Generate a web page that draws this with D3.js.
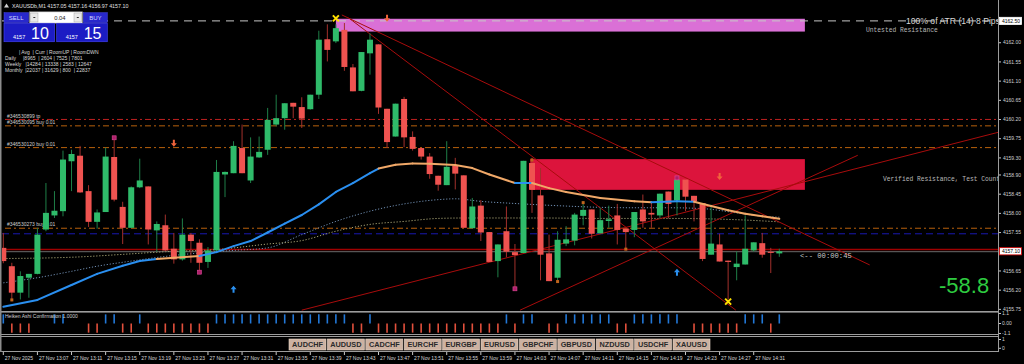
<!DOCTYPE html>
<html>
<head>
<meta charset="utf-8">
<script src="https://cdn.jsdelivr.net/npm/d3@7"></script>
<style>
    body { margin: 0; background: #000; overflow: hidden; }
    svg { display: block; }
    text { font-family: "Liberation Sans", Arial, sans-serif; }
    .mono { font-family: "Liberation Mono", "DejaVu Sans Mono", monospace; }
</style>
</head>
<body>
<div id="chart"></div>
<script>
// XAUUSDb M1 candles, 27 Nov 2025 13:03 .. 14:34 (one per minute)
let opens = [4157.18, 4156.75, 4156.13, 4156.48, 4156.57, 4157.61, 4157.94, 4158.04, 4159.21, 4159.34,
    4158.51, 4157.79, 4158.02, 4159.31, 4158.14, 4157.65, 4158.60, 4158.62, 4157.59, 4157.71,
    4157.16, 4156.91, 4157.49, 4157.30, 4156.85, 4157.12, 4158.90, 4158.93, 4159.52, 4158.76,
    4159.30, 4159.48, 4160.07, 4160.22, 4160.58, 4160.48, 4160.43, 4160.77, 4162.07, 4162.02,
    4162.29, 4161.41, 4160.86, 4161.74, 4161.95, 4160.44, 4159.79, 4160.67, 4159.78, 4159.52,
    4159.32, 4158.87, 4158.65, 4159.11, 4158.88, 4157.64, 4158.17, 4157.55, 4156.87, 4157.57,
    4157.08, 4157.06, 4159.17, 4158.41, 4157.05, 4156.48, 4157.28, 4157.35, 4157.93, 4158.08,
    4157.52, 4157.81, 4157.94, 4157.63, 4157.60, 4158.08, 4158.00, 4157.94, 4158.50, 4158.29,
    4158.78, 4158.40, 4158.23, 4157.02, 4157.26, 4156.88, 4156.73, 4156.79, 4157.12, 4157.29,
    4157.09, 4157.05];
let highs = [4157.53, 4156.83, 4156.63, 4156.57, 4157.65, 4158.70, 4158.51, 4159.46, 4159.48, 4159.57,
    4158.65, 4158.08, 4159.53, 4159.71, 4158.26, 4158.62, 4159.27, 4158.62, 4157.80, 4157.96,
    4157.53, 4157.87, 4157.53, 4157.38, 4157.20, 4159.24, 4158.97, 4159.68, 4160.07, 4159.77,
    4159.79, 4160.46, 4160.77, 4160.57, 4160.58, 4160.71, 4160.77, 4162.27, 4162.42, 4162.42,
    4162.45, 4161.49, 4161.77, 4162.21, 4161.95, 4160.44, 4160.56, 4160.72, 4159.91, 4159.52,
    4159.40, 4158.87, 4159.68, 4159.29, 4158.88, 4158.35, 4158.30, 4157.55, 4157.26, 4158.15,
    4157.27, 4159.22, 4159.29, 4159.05, 4157.49, 4157.57, 4157.69, 4158.00, 4158.27, 4158.08,
    4158.12, 4158.17, 4158.21, 4157.63, 4158.02, 4158.43, 4158.27, 4158.45, 4158.50, 4158.83,
    4158.78, 4158.40, 4158.23, 4158.19, 4157.51, 4156.88, 4157.10, 4157.94, 4157.31, 4157.53,
    4157.18, 4157.16];
let lows = [4156.82, 4155.93, 4155.97, 4156.01, 4156.56, 4157.57, 4157.88, 4157.92, 4158.51, 4158.47,
    4157.67, 4157.63, 4158.02, 4158.27, 4157.27, 4157.65, 4158.58, 4157.26, 4157.09, 4157.10,
    4156.81, 4156.88, 4156.83, 4156.63, 4156.71, 4157.10, 4158.37, 4158.93, 4158.93, 4158.70,
    4159.29, 4159.36, 4160.03, 4159.95, 4160.22, 4159.99, 4160.42, 4160.67, 4161.55, 4161.98,
    4161.33, 4160.85, 4160.85, 4161.24, 4160.32, 4159.52, 4159.79, 4159.54, 4159.46, 4159.25,
    4158.80, 4158.52, 4158.65, 4158.55, 4157.65, 4157.64, 4157.34, 4156.85, 4156.49, 4156.96,
    4156.18, 4157.06, 4158.00, 4156.42, 4156.40, 4156.40, 4157.22, 4157.24, 4157.71, 4157.40,
    4157.52, 4157.65, 4157.26, 4157.14, 4157.43, 4157.65, 4157.65, 4157.87, 4157.87, 4157.94,
    4158.04, 4157.80, 4156.87, 4157.02, 4156.86, 4155.97, 4156.42, 4156.79, 4157.09, 4156.95,
    4156.59, 4156.97];
let closes = [4156.87, 4156.13, 4156.52, 4156.57, 4157.49, 4158.00, 4158.05, 4159.25, 4159.38, 4158.48,
    4157.79, 4158.01, 4159.32, 4158.31, 4157.65, 4158.60, 4158.76, 4157.61, 4157.74, 4157.12,
    4156.91, 4157.49, 4157.34, 4156.83, 4157.12, 4158.96, 4158.96, 4159.57, 4158.93, 4159.32,
    4159.43, 4160.18, 4160.22, 4160.57, 4160.49, 4160.21, 4160.77, 4162.06, 4161.82, 4162.33,
    4161.42, 4160.85, 4161.77, 4162.06, 4160.47, 4159.66, 4160.56, 4159.77, 4159.50, 4159.32,
    4158.91, 4158.66, 4159.08, 4158.92, 4157.65, 4158.15, 4157.54, 4156.85, 4157.26, 4157.09,
    4157.01, 4159.22, 4158.54, 4157.02, 4156.40, 4157.37, 4157.38, 4157.96, 4158.07, 4157.51,
    4157.83, 4157.85, 4157.60, 4157.55, 4158.02, 4157.80, 4157.96, 4158.45, 4158.21, 4158.78,
    4158.38, 4158.27, 4156.92, 4157.28, 4156.86, 4156.85, 4156.81, 4157.16, 4157.31, 4157.02,
    4157.07, 4157.10];

// Heiken Ashi Confirmation: 1 = up bar, -1 = down bar, 0 = nothing
let haSignal = [1, -1, -1, -1, 0, 0, 1, 1, 0, 0,
    -1, -1, 1, 1, -1, -1, 1, -1, -1, -1,
    -1, -1, -1, -1, -1, 1, 1, 1, 1, 1,
    1, 1, 1, 1, 1, 1, 1, 1, 1, 1,
    1, -1, -1, 1, -1, -1, -1, -1, -1, -1,
    -1, -1, -1, -1, -1, -1, -1, -1, -1, 1,
    -1, 1, 1, 0, -1, -1, 1, 1, 1, 1,
    1, 1, -1, -1, 1, 1, 1, 1, 1, 1,
    0, -1, -1, -1, -1, -1, -1, 1, 1, 1,
    -1, 1];

// axis labels (one every 4 candles)
let timeLabels = ["27 Nov 2025", "27 Nov 13:07", "27 Nov 13:11", "27 Nov 13:15", "27 Nov 13:19",
    "27 Nov 13:23", "27 Nov 13:27", "27 Nov 13:31", "27 Nov 13:35", "27 Nov 13:39", "27 Nov 13:43",
    "27 Nov 13:47", "27 Nov 13:51", "27 Nov 13:55", "27 Nov 13:59", "27 Nov 14:03", "27 Nov 14:07",
    "27 Nov 14:11", "27 Nov 14:15", "27 Nov 14:19", "27 Nov 14:23", "27 Nov 14:27", "27 Nov 14:31"];
let priceTicks = [4162.00, 4161.55, 4161.10, 4160.65, 4160.20, 4159.75, 4159.30, 4158.90,
    4158.45, 4158.00, 4157.55, 4156.65, 4156.20, 4155.75];
let priceMarks = [4162.50, 4157.10];

// moving averages (candle index, price)
let maFastIdx = [0, 4, 8, 11, 14, 16, 18, 20, 23, 25, 27, 29, 31, 33, 35, 37, 39, 41, 43, 44,
    46, 48, 50, 53, 55, 57, 60, 62, 64, 66, 70, 74, 76, 79, 81, 83, 85, 87, 89, 91];
let maFastVal = [4155.80, 4155.96, 4156.31, 4156.57, 4156.76, 4156.87, 4156.92, 4156.95, 4156.99, 4157.08,
    4157.22, 4157.34, 4157.54, 4157.75, 4157.95, 4158.20, 4158.49, 4158.70, 4158.93, 4159.04,
    4159.13, 4159.16, 4159.15, 4159.12, 4159.05, 4158.90, 4158.70, 4158.70, 4158.58, 4158.49,
    4158.35, 4158.27, 4158.25, 4158.27, 4158.26, 4158.16, 4158.06, 4157.98, 4157.92, 4157.86];
// 1 = segment drawn as rising (blue), 0 = falling (orange)
let maFastUp = [1, 1, 1, 1, 1, 1, 0, 0, 1, 1, 1, 1, 1, 1, 1, 1, 1, 1, 1, 0,
    0, 0, 0, 0, 0, 0, 1, 0, 0, 0, 0, 0, 1, 1, 0, 0, 0, 0, 0, 0];

let maMidIdx = [0, 4, 8, 11, 15, 19, 23, 27, 31, 35, 39, 43, 47, 51, 53, 56, 60, 66, 70, 74, 78, 82, 86, 89, 91];
let maMidVal = [4156.36, 4156.48, 4156.63, 4156.75, 4156.87, 4156.98, 4157.06, 4157.12, 4157.18, 4157.49,
    4157.80, 4158.04, 4158.21, 4158.31, 4158.33, 4158.27, 4158.22, 4158.16, 4158.13, 4158.12,
    4158.12, 4158.10, 4158.00, 4157.92, 4157.90];

let maSlowIdx = [0, 8, 15, 19, 25, 31, 35, 39, 43, 47, 51, 54, 63, 70, 78, 86, 91];
let maSlowVal = [4156.93, 4156.96, 4157.04, 4157.09, 4157.14, 4157.27, 4157.35, 4157.57, 4157.73,
    4157.80, 4157.87, 4157.88, 4157.88, 4157.87, 4157.87, 4157.84, 4157.79];

// open orders
let orderLevels = [4160.19, 4160.04, 4159.53, 4157.64];
let orderLabels = ["#346530899 tp", "#346530095 buy 0.01", "#346530120 buy 0.01", "#346530273 buy 0.01"];

// supply zones
let zoneNames = ["Untested Resistance", "Verified Resistance, Test Count"];
let zoneTop = [4162.55, 4159.26];
let zoneBottom = [4162.25, 4158.54];
let zoneStart = [39, 61.8];
let zoneEnd = [94, 94];

// trend lines: [candle index, price] -> [candle index, price]
let trendFrom = [[39.7, 4162.64], [40.5, 4162.57], [35.0, 4155.72], [60.6, 4155.72]];
let trendTo = [[101.6, 4156.78], [85.9, 4155.72], [116.7, 4159.89], [100.2, 4159.35]];

// signal markers
let upArrowIdx = [27, 79];
let upArrowPrice = [4156.21, 4156.61];
let downArrowIdx = [20, 45, 84];
let downArrowPrice = [4159.63, 4162.56, 4158.85];
let crossIdx = [39, 85];
let crossPrice = [4162.56, 4155.92];
let pinkIdx = [13, 23, 60, 79];
let pinkPrice = [4159.76, 4156.61, 4156.22, 4158.82];
let dotIdx = [1, 62, 65, 68, 73];
let dotPrice = [4155.96, 4159.24, 4156.39, 4158.24, 4157.15];

let symbols = ["AUDCHF", "AUDUSD", "CADCHF", "EURCHF", "EURGBP", "EURUSD", "GBPCHF", "GBPUSD", "NZDUSD", "USDCHF", "XAUUSD"];
let infoRows = ["          | Avg  | Curr | RoomUP | RoomDWN",
    "Daily     |8965  | 2604 | 7525 | 7801",
    "Weekly   |14284 | 13338 | 2583 | 12647",
    "Monthly  |22037 | 31629 | 800  | 22837"];

// ==============================
let W = 1024, H = 364;
let plotR = 998;

let svg = d3.select("#chart").append("svg").attr("width", W).attr("height", H);
svg.append("rect").attr("width", W).attr("height", H).attr("fill", "#000");

let x = d3.scaleLinear().domain([0, 91]).range([3.3, 779.3]);
let y = d3.scaleLinear().domain([4155.70, 4162.99]).range([311, 0]);
let yHA = d3.scaleLinear().domain([-1.15, 1.15]).range([334, 313]);

svg.append("defs").append("clipPath").attr("id", "mainClip")
    .append("rect").attr("x", 2).attr("y", 0).attr("width", plotR - 2).attr("height", 311);

let main = svg.append("g").attr("clip-path", "url(#mainClip)");

// zones
zoneNames.forEach(function (n, i) {
    main.append("rect")
        .attr("x", x(zoneStart[i])).attr("y", y(zoneTop[i]))
        .attr("width", x(zoneEnd[i]) - x(zoneStart[i]))
        .attr("height", y(zoneBottom[i]) - y(zoneTop[i]))
        .attr("fill", i === 0 ? "#da70d6" : "#dc143c");
});

// order lines
orderLevels.forEach(function (p, i) {
    main.append("line")
        .attr("x1", 5).attr("x2", plotR).attr("y1", y(p)).attr("y2", y(p))
        .attr("stroke", i === 0 ? "#c02020" : "#b8600c")
        .attr("stroke-width", 1)
        .attr("stroke-dasharray", "6,3,2,3");
    main.append("text")
        .attr("x", 7).attr("y", y(p) - 1.8)
        .attr("font-size", 5).attr("fill", "#d0d0d0")
        .text(orderLabels[i]);
});

// ATR line
main.append("line")
    .attr("x1", 2).attr("x2", plotR).attr("y1", y(4162.50)).attr("y2", y(4162.50))
    .attr("stroke", "#c8c8c8").attr("stroke-width", 1).attr("stroke-dasharray", "8,6");

// blue dashed level, ask/bid lines
main.append("line")
    .attr("x1", 2).attr("x2", plotR).attr("y1", y(4157.51)).attr("y2", y(4157.51))
    .attr("stroke", "#1818b0").attr("stroke-width", 1).attr("stroke-dasharray", "7,4");
main.append("line")
    .attr("x1", 2).attr("x2", plotR).attr("y1", y(4157.14)).attr("y2", y(4157.14))
    .attr("stroke", "#a00000").attr("stroke-width", 1.5);
main.append("line")
    .attr("x1", 2).attr("x2", plotR).attr("y1", y(4157.09)).attr("y2", y(4157.09))
    .attr("stroke", "#6a6a6a").attr("stroke-width", 1);

// dotted averages
let line = d3.line().x(d => x(d[0])).y(d => y(d[1]));
main.append("path")
    .datum(maMidIdx.map((d, i) => [d, maMidVal[i]]))
    .attr("d", line.curve(d3.curveMonotoneX))
    .attr("fill", "none").attr("stroke", "#6f8db0").attr("stroke-width", 1).attr("stroke-dasharray", "1.2,1.8");
main.append("path")
    .datum(maSlowIdx.map((d, i) => [d, maSlowVal[i]]))
    .attr("d", line.curve(d3.curveMonotoneX))
    .attr("fill", "none").attr("stroke", "#aaa676").attr("stroke-width", 1).attr("stroke-dasharray", "1.2,1.8");

// trend lines
trendFrom.forEach(function (a, i) {
    main.append("line")
        .attr("x1", x(a[0])).attr("y1", y(a[1]))
        .attr("x2", x(trendTo[i][0])).attr("y2", y(trendTo[i][1]))
        .attr("stroke", "#a80c0c").attr("stroke-width", 1);
});

// candles
let bw = 6;
let candle = main.append("g").selectAll("g")
    .data(opens.map((o, i) => ({i: i, o: o, h: highs[i], l: lows[i], c: closes[i]})))
    .join("g");
candle.append("line")
    .attr("x1", d => x(d.i)).attr("x2", d => x(d.i))
    .attr("y1", d => y(d.h)).attr("y2", d => y(d.l))
    .attr("stroke", d => d.c >= d.o ? "#1f7f48" : "#a3302c").attr("stroke-width", 1);
candle.append("rect")
    .attr("x", d => x(d.i) - bw / 2)
    .attr("y", d => y(Math.max(d.o, d.c)))
    .attr("width", bw)
    .attr("height", d => Math.max(1.2, Math.abs(y(d.o) - y(d.c))))
    .attr("fill", d => d.c >= d.o ? "#2fbb6a" : "#ef5350");

// fast MA, coloured by direction
for (let i = 0; i < maFastIdx.length - 1; i++) {
    main.append("line")
        .attr("x1", x(maFastIdx[i])).attr("y1", y(maFastVal[i]))
        .attr("x2", x(maFastIdx[i + 1])).attr("y2", y(maFastVal[i + 1]))
        .attr("stroke", maFastUp[i] ? "#2a8ff0" : "#f0a868")
        .attr("stroke-width", 2).attr("stroke-linecap", "round");
}

// markers
upArrowIdx.forEach(function (d, i) {
    let cx = x(d), cy = y(upArrowPrice[i]);
    main.append("path")
        .attr("d", `M${cx},${cy - 3.5} L${cx + 3},${cy} L${cx + 1},${cy} L${cx + 1},${cy + 3.5} L${cx - 1},${cy + 3.5} L${cx - 1},${cy} L${cx - 3},${cy} Z`)
        .attr("fill", "#2a90f0");
});
downArrowIdx.forEach(function (d, i) {
    let cx = x(d), cy = y(downArrowPrice[i]);
    main.append("path")
        .attr("d", `M${cx},${cy + 3.5} L${cx + 3},${cy} L${cx + 1},${cy} L${cx + 1},${cy - 3.5} L${cx - 1},${cy - 3.5} L${cx - 1},${cy} L${cx - 3},${cy} Z`)
        .attr("fill", "#f0643c");
});
crossIdx.forEach(function (d, i) {
    let cx = x(d), cy = y(crossPrice[i]);
    main.append("path")
        .attr("d", `M${cx - 3},${cy - 3} L${cx + 3},${cy + 3} M${cx + 3},${cy - 3} L${cx - 3},${cy + 3}`)
        .attr("stroke", "#ffe000").attr("stroke-width", 2);
});
pinkIdx.forEach(function (d, i) {
    main.append("rect")
        .attr("x", x(d) - 2).attr("y", y(pinkPrice[i]) - 2).attr("width", 4).attr("height", 4)
        .attr("fill", "#b0206a").attr("stroke", "#e04a9a").attr("stroke-width", 0.6);
});
dotIdx.forEach(function (d, i) {
    main.append("rect")
        .attr("x", x(d) - 1.5).attr("y", y(dotPrice[i]) - 1.5).attr("width", 3).attr("height", 3)
        .attr("fill", "#c0641c");
});

// zone labels and ATR text
main.append("text").attr("class", "mono")
    .attr("x", 866).attr("y", y(4162.25) + 0.5)
    .attr("font-size", 6.3).attr("fill", "#b8b8b8").text(zoneNames[0]);
main.append("text").attr("class", "mono")
    .attr("x", 883).attr("y", 181)
    .attr("font-size", 6.3).attr("fill", "#b8b8b8").text(zoneNames[1]);
main.append("text")
    .attr("x", 906).attr("y", 24)
    .attr("font-size", 8.6).attr("fill", "#d8d8d8").text("100% of ATR (14) 8 Pips");
main.append("text").attr("class", "mono")
    .attr("x", 800).attr("y", 258)
    .attr("font-size", 7.2).attr("fill", "#c8c8c8").text("<-- 00:00:45");
main.append("text")
    .attr("x", 939).attr("y", 293)
    .attr("font-size", 22).attr("fill", "#2ecc40").text("-58.8");

// Heiken Ashi panel
let ha = svg.append("g");
haSignal.forEach(function (s, i) {
    if (s === 0) return;
    ha.append("line")
        .attr("x1", x(i)).attr("x2", x(i))
        .attr("y1", yHA(0)).attr("y2", yHA(s))
        .attr("stroke", s > 0 ? "#2278d8" : "#e2503c").attr("stroke-width", 1.6);
});
ha.append("text").attr("x", 5).attr("y", 318)
    .attr("font-size", 5).attr("fill", "#d0d0d0").text("Heiken Ashi Confirmation 1.0000");

// symbol buttons
symbols.forEach(function (s, i) {
    let bx = 289 + i * 38.4;
    svg.append("rect").attr("x", bx).attr("y", 339).attr("width", 37).attr("height", 11)
        .attr("fill", "#cdb2a2").attr("stroke", "#e6d6ca").attr("stroke-width", 0.6);
    svg.append("text").attr("x", bx + 18.5).attr("y", 347.3).attr("text-anchor", "middle")
        .attr("font-size", 7.3).attr("font-weight", "bold").attr("fill", "#2a2a2a").text(s);
});

// frames
svg.append("rect").attr("x", 0).attr("y", 311).attr("width", plotR).attr("height", 1.6).attr("fill", "#9c9c9c");
svg.append("rect").attr("x", 0).attr("y", 334).attr("width", plotR).attr("height", 1).attr("fill", "#9c9c9c");
svg.append("rect").attr("x", 0).attr("y", 336).attr("width", plotR).attr("height", 1).attr("fill", "#9c9c9c");
svg.append("rect").attr("x", 0).attr("y", 351).attr("width", plotR).attr("height", 1).attr("fill", "#9c9c9c");
svg.append("rect").attr("x", 0).attr("y", 0).attr("width", 1.5).attr("height", 352).attr("fill", "#8c8c8c");
svg.append("rect").attr("x", plotR).attr("y", 0).attr("width", 1).attr("height", 352).attr("fill", "#9c9c9c");

// price axis
let yAxis = d3.axisRight(y).tickValues(priceTicks).tickFormat(d3.format(".2f")).tickSize(2).tickPadding(2);
let ax = svg.append("g").attr("transform", `translate(${plotR + 1},0)`).call(yAxis);
ax.select(".domain").remove();
ax.selectAll("line").attr("stroke", "#c8c8c8");
ax.selectAll("text").attr("font-size", 5).attr("fill", "#d0d0d0")
    .style("font-family", "'Liberation Sans', Arial, sans-serif");

priceMarks.forEach(function (p, i) {
    svg.append("rect").attr("x", 999.5).attr("y", y(p) - 3.6).attr("width", 22).attr("height", 7.2)
        .attr("fill", "#fff").attr("stroke", i === 1 ? "#e00000" : "#fff").attr("stroke-width", 0.8);
    svg.append("text").attr("x", 1002).attr("y", y(p) + 1.8)
        .attr("font-size", 5).attr("fill", "#000").text(d3.format(".2f")(p));
});

// HA panel axis
[[1.1, "1.1"], [0, "0.00"], [-1.1, "-1.1"]].forEach(function (t) {
    svg.append("line").attr("x1", plotR + 1).attr("x2", plotR + 3).attr("y1", yHA(t[0])).attr("y2", yHA(t[0])).attr("stroke", "#c8c8c8");
    svg.append("text").attr("x", 1002).attr("y", yHA(t[0]) + 1.8).attr("font-size", 5).attr("fill", "#d0d0d0").text(t[1]);
});
[[339.5, "1"], [348.3, "0"]].forEach(function (t) {
    svg.append("line").attr("x1", plotR + 1).attr("x2", plotR + 3).attr("y1", t[0]).attr("y2", t[0]).attr("stroke", "#c8c8c8");
    svg.append("text").attr("x", 1002).attr("y", t[0] + 1.8).attr("font-size", 5).attr("fill", "#d0d0d0").text(t[1]);
});

// time axis
timeLabels.forEach(function (t, i) {
    let tx = x(i * 4);
    svg.append("line").attr("x1", tx).attr("x2", tx).attr("y1", 352).attr("y2", 355).attr("stroke", "#c8c8c8");
    svg.append("text").attr("x", tx + 1.5).attr("y", 359.5)
        .attr("font-size", 5).attr("fill", "#d8d8d8").text(t);
});

// title
svg.append("path").attr("d", "M4,7.5 L6.5,3.5 L9,7.5 Z").attr("fill", "#d0d0d0");
svg.append("text").attr("x", 12).attr("y", 7.6).attr("font-size", 5.3).attr("fill", "#e0e0e0")
    .text("XAUUSDb,M1  4157.05 4157.16 4156.97 4157.10");

// one click trading panel
let panel = svg.append("g");
panel.append("rect").attr("x", 4).attr("y", 12.7).attr("width", 24.5).attr("height", 10).attr("fill", "#2828cc").attr("stroke", "#4848f0").attr("stroke-width", 0.5);
panel.append("text").attr("x", 16.2).attr("y", 19.8).attr("text-anchor", "middle").attr("font-size", 6).attr("fill", "#d8d8ff").text("SELL");
panel.append("rect").attr("x", 83.3).attr("y", 12.7).attr("width", 24).attr("height", 10).attr("fill", "#2828cc").attr("stroke", "#4848f0").attr("stroke-width", 0.5);
panel.append("text").attr("x", 95.3).attr("y", 19.8).attr("text-anchor", "middle").attr("font-size", 6).attr("fill", "#d8d8ff").text("BUY");
panel.append("rect").attr("x", 29.5).attr("y", 11.8).attr("width", 53).attr("height", 11.4).attr("fill", "#fff").attr("stroke", "#888").attr("stroke-width", 0.6);
panel.append("rect").attr("x", 30.5).attr("y", 13).attr("width", 7.5).attr("height", 9).attr("fill", "#e8e8e8").attr("stroke", "#999").attr("stroke-width", 0.4);
panel.append("rect").attr("x", 74).attr("y", 13).attr("width", 7.5).attr("height", 9).attr("fill", "#e8e8e8").attr("stroke", "#999").attr("stroke-width", 0.4);
panel.append("rect").attr("x", 33.3).attr("y", 17).attr("width", 2).attr("height", 1).attr("fill", "#333");
panel.append("rect").attr("x", 76.8).attr("y", 17).attr("width", 2).attr("height", 1).attr("fill", "#333");
panel.append("text").attr("x", 65.5).attr("y", 19.8).attr("text-anchor", "end").attr("font-size", 5.8).attr("fill", "#222").text("0.04");

[[4, "10"], [56.7, "15"]].forEach(function (b) {
    panel.append("rect").attr("x", b[0]).attr("y", 23.3).attr("width", 50.6).attr("height", 18.4)
        .attr("fill", "#1c1cc4").attr("stroke", "#4040ec").attr("stroke-width", 0.7);
    panel.append("text").attr("x", b[0] + 9).attr("y", 38.6).attr("font-size", 5.5).attr("fill", "#fff").text("4157");
    panel.append("text").attr("x", b[0] + 27).attr("y", 38.6).attr("font-size", 16).attr("fill", "#fff").text(b[1]);
});

// statistics text
infoRows.forEach(function (r, i) {
    svg.append("text").attr("x", 5).attr("y", 53.5 + i * 6.2)
        .attr("font-size", 5).attr("fill", "#d8d8d8").attr("xml:space", "preserve")
        .style("white-space", "pre").text(r);
});
</script>
</body>
</html>
